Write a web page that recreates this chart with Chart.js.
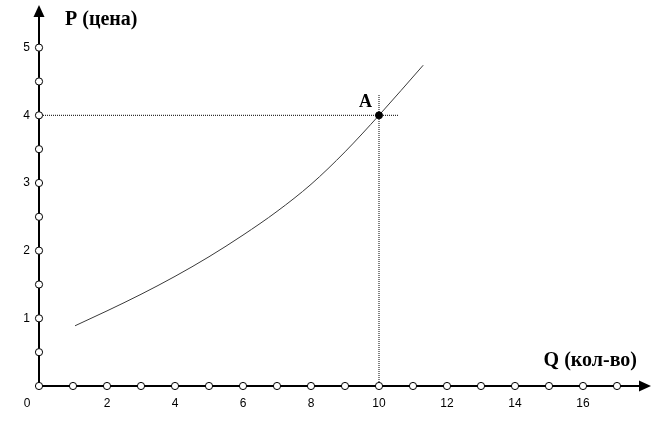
<!DOCTYPE html>
<html>
<head>
<meta charset="utf-8">
<script src="https://cdn.jsdelivr.net/npm/chart.js@4"></script>
<style>
  html, body { margin: 0; padding: 0; background: #fff; }
  #wrap { width: 670px; height: 427px; }
</style>
</head>
<body>
<div id="wrap"><canvas id="supplyChart" width="670" height="427"></canvas></div>
<script>
// supply curve P(Q)
const curveQ = [1.06, 2, 3, 4, 5, 6, 7, 8, 9, 10, 11.3];
const curveP = [0.89, 1.11, 1.355, 1.62, 1.91, 2.23, 2.58, 2.98, 3.46, 4.0, 4.74];

// point A and its guide lines
const pointA = { q: 10, p: 4, label: 'A' };
const guideHQ = [0, 10.56];
const guideVP = [0, 4.31];

// axis tick marks (hollow circles) and labels
const qTicks = [0, 1, 2, 3, 4, 5, 6, 7, 8, 9, 10, 11, 12, 13, 14, 15, 16, 17];
const pTicks = [0, 0.5, 1, 1.5, 2, 2.5, 3, 3.5, 4, 4.5, 5];
const qLabels = [2, 4, 6, 8, 10, 12, 14, 16];
const pLabels = [1, 2, 3, 4, 5];
const originLabel = '0';
const titleP = 'P (цена)';
const titleQ = 'Q (кол-во)';

const tickPoints = qTicks.map(q => ({ x: q, y: 0 }))
  .concat(pTicks.filter(p => p > 0).map(p => ({ x: 0, y: p })));

const axesPlugin = {
  id: 'axes',
  beforeDatasetsDraw(chart) {
    const { ctx, scales: { x, y } } = chart;
    const x0 = x.getPixelForValue(0), y0 = y.getPixelForValue(0);
    const xEnd = x.getPixelForValue(x.max), yEnd = y.getPixelForValue(y.max);
    ctx.save();
    ctx.strokeStyle = '#000';
    ctx.fillStyle = '#000';
    ctx.lineWidth = 2;
    ctx.beginPath();
    ctx.moveTo(x0, y0);
    ctx.lineTo(xEnd - 10, y0);
    ctx.moveTo(x0, y0);
    ctx.lineTo(x0, yEnd + 10);
    ctx.stroke();
    // arrow heads
    ctx.beginPath();
    ctx.moveTo(xEnd, y0);
    ctx.lineTo(xEnd - 12, y0 - 5.5);
    ctx.lineTo(xEnd - 12, y0 + 5.5);
    ctx.closePath();
    ctx.fill();
    ctx.beginPath();
    ctx.moveTo(x0, yEnd);
    ctx.lineTo(x0 - 5.5, yEnd + 12);
    ctx.lineTo(x0 + 5.5, yEnd + 12);
    ctx.closePath();
    ctx.fill();
    ctx.restore();
  },
  afterDatasetsDraw(chart) {
    const { ctx, scales: { x, y } } = chart;
    const x0 = x.getPixelForValue(0), y0 = y.getPixelForValue(0);
    ctx.save();
    ctx.fillStyle = '#000';
    ctx.font = '12px "Liberation Sans", Arial, sans-serif';
    ctx.textBaseline = 'middle';
    ctx.textAlign = 'center';
    qLabels.forEach(q => ctx.fillText(String(q), x.getPixelForValue(q), y0 + 18));
    ctx.fillText(originLabel, x0 - 12, y0 + 18);
    ctx.textAlign = 'right';
    pLabels.forEach(p => ctx.fillText(String(p), x0 - 9, y.getPixelForValue(p)));

    ctx.font = 'bold 20px "Liberation Serif", "Times New Roman", serif';
    ctx.textBaseline = 'alphabetic';
    ctx.textAlign = 'left';
    ctx.fillText(titleP, x0 + 26, 25);
    ctx.textAlign = 'right';
    ctx.fillText(titleQ, x.getPixelForValue(x.max) - 14, y0 - 20);
    ctx.font = 'bold 18px "Liberation Serif", "Times New Roman", serif';
    ctx.textAlign = 'center';
    ctx.fillText(pointA.label, x.getPixelForValue(pointA.q) - 13.5, y.getPixelForValue(pointA.p) - 8);
    ctx.restore();
  }
};

new Chart(document.getElementById('supplyChart').getContext('2d'), {
  type: 'scatter',
  data: {
    datasets: [
      {
        data: [{ x: pointA.q, y: pointA.p }],
        pointRadius: 3.5,
        pointBackgroundColor: '#000',
        pointBorderColor: '#000',
        showLine: false
      },
      {
        data: tickPoints,
        pointRadius: 3.6,
        pointBackgroundColor: '#fff',
        pointBorderColor: '#000',
        pointBorderWidth: 1,
        showLine: false
      },
      {
        data: curveQ.map((q, i) => ({ x: q, y: curveP[i] })),
        showLine: true,
        borderColor: '#3a3a3a',
        borderWidth: 1,
        pointRadius: 0,
        cubicInterpolationMode: 'monotone'
      },
      {
        data: guideHQ.map(q => ({ x: q, y: pointA.p })),
        showLine: true,
        borderColor: '#000',
        borderWidth: 1,
        borderDash: [1, 1],
        pointRadius: 0
      },
      {
        data: guideVP.map(p => ({ x: pointA.q, y: p })),
        showLine: true,
        borderColor: '#000',
        borderWidth: 1,
        borderDash: [1, 1],
        pointRadius: 0
      }
    ]
  },
  options: {
    responsive: false,
    animation: false,
    devicePixelRatio: 1,
    clip: false,
    layout: { padding: { left: 39, right: 19, top: 2, bottom: 41 } },
    plugins: { legend: { display: false }, tooltip: { enabled: false } },
    scales: {
      x: { type: 'linear', min: 0, max: 18, display: false },
      y: { type: 'linear', min: 0, max: 5.63, display: false }
    }
  },
  plugins: [axesPlugin]
});
</script>
</body>
</html>
